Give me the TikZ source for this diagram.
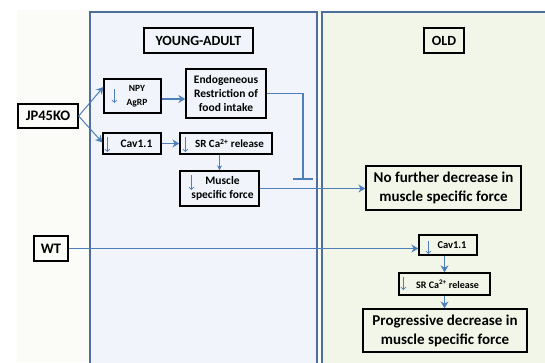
\documentclass[tikz,border=0pt]{standalone}
\usepackage{fontspec}
\setmainfont{Carlito}
\usetikzlibrary{arrows.meta}
\definecolor{lblue}{HTML}{4F7FBA}
\definecolor{pborder}{HTML}{4E6E9C}
\definecolor{yfill}{HTML}{F1F5FB}
\definecolor{ofill}{HTML}{F1F6E9}
\definecolor{bgfill}{HTML}{FBFBF8}
\tikzset{
  box/.style={draw=black, line width=1.3pt, align=center, inner sep=0pt, font=\bfseries},
  conn/.style={draw=lblue, line width=1.4pt, -{Stealth[length=7pt,width=8pt]}},
  thinconn/.style={draw=lblue, line width=0.8pt, -{Stealth[length=5pt,width=5pt]}},
  darr/.style={draw=lblue, line width=0.7pt, -{Straight Barb[length=2.5pt,width=5pt]}},
  panel/.style={draw=pborder, line width=1.5pt}
}
\begin{document}
\begin{tikzpicture}[x=1pt,y=-1pt]
\useasboundingbox (0,0) rectangle (545,362);
\fill[bgfill] (17,10) rectangle (545,362);
\path[panel, fill=yfill] (90,12) rectangle (317,372);
\path[panel, fill=ofill] (322,12) rectangle (560,372);

\node[box, minimum width=109pt, minimum height=25pt, font=\bfseries\fontsize{14}{16}\selectfont] (ya) at (198.5,40.5) {YOUNG-ADULT};
\node[box, minimum width=40pt, minimum height=25pt, font=\bfseries\fontsize{14}{16}\selectfont] (old) at (444,40.5) {OLD};

\node[box, minimum width=60pt, minimum height=24pt, font=\bfseries\fontsize{14.5}{16}\selectfont] (jp) at (48,116) {JP45KO};
\node[box, minimum width=34pt, minimum height=25pt, font=\bfseries\fontsize{14.5}{16}\selectfont] (wt) at (51,248.5) {WT};

\node[box, minimum width=57pt, minimum height=34pt, font=\bfseries\fontsize{9.5}{14}\selectfont] (npy) at (132.5,96) {\hspace*{9pt}\begin{tabular}{@{}c@{}}NPY\\[0pt] AgRP\end{tabular}};
\node[box, minimum width=80pt, minimum height=49pt, font=\bfseries\fontsize{11.5}{14}\selectfont] (endo) at (226,93.5) {Endogeneous\\Restriction of\\food intake};
\node[box, minimum width=58pt, minimum height=21pt, font=\bfseries\fontsize{11.5}{13}\selectfont] (cav) at (132,143.5) {\hspace*{9pt}Cav1.1};
\node[box, minimum width=92pt, minimum height=21pt, font=\bfseries\fontsize{11}{13}\selectfont] (sr) at (226,143.5) {\hspace*{7pt}SR Ca\textsuperscript{2+} release};
\node[box, minimum width=79pt, minimum height=35pt, font=\bfseries\fontsize{11.5}{14}\selectfont] (mus) at (219.5,188.5) {\hspace*{6pt}\begin{tabular}{@{}c@{}}Muscle\\specific force\end{tabular}};
\node[box, minimum width=155pt, minimum height=44pt, font=\bfseries\fontsize{15}{19}\selectfont] (nof) at (443.5,188) {No further decrease in\\muscle specific force};

\node[box, minimum width=58pt, minimum height=20pt, font=\bfseries\fontsize{10.5}{12}\selectfont] (cav2) at (448,245) {\hspace*{8pt}Cav1.1};
\node[box, minimum width=91pt, minimum height=22pt, font=\bfseries\fontsize{10}{12}\selectfont] (sr2) at (444.5,284) {\hspace*{6pt}SR Ca\textsuperscript{2+} release};
\node[box, minimum width=164pt, minimum height=43pt, font=\bfseries\fontsize{15}{19}\selectfont] (prog) at (445,330.5) {Progressive decrease in\\muscle specific force};

% small down arrows inside boxes
\draw[darr] ([xshift=11pt,yshift=7pt]npy.west) -- ++(0,14);
\draw[darr] ([xshift=5pt,yshift=6.5pt]cav.west) -- ++(0,15);
\draw[darr] ([xshift=6pt,yshift=6.5pt]sr.west) -- ++(0,15);
\draw[darr] ([xshift=12pt,yshift=13.5pt]mus.west) -- ++(0,15);
\draw[darr] ([xshift=10pt,yshift=4pt]cav2.west) -- ++(0,13);
\draw[darr] ([xshift=5pt,yshift=7pt]sr2.west) -- ++(0,13);

% connectors
\draw[conn, line width=1pt] (jp.east) -- ([yshift=9pt]npy.west);
\draw[conn, line width=1pt] (jp.east) -- ([yshift=1pt]cav.west);
\draw[conn] ([yshift=-3pt]npy.east) -- ([yshift=-3pt]npy.east -| endo.west);
\draw[conn] (cav.east) -- (sr.west);
\draw[thinconn] (mus.north |- sr.south) -- (mus.north);
\coordinate (inh) at (303,179);
\draw[lblue, line width=1.4pt] (endo.east) -| (inh);
\draw[lblue, line width=2pt] ([xshift=-10pt]inh) -- ([xshift=10pt]inh);
\draw[conn] (mus.east) -- (mus.east -| nof.west);
\draw[conn] (wt.east) -- (wt.east -| cav2.west);
\draw[conn] (sr2.north |- cav2.south) -- (sr2.north);
\draw[conn] (sr2.south) -- (sr2.south |- prog.north);
\end{tikzpicture}
\end{document}
